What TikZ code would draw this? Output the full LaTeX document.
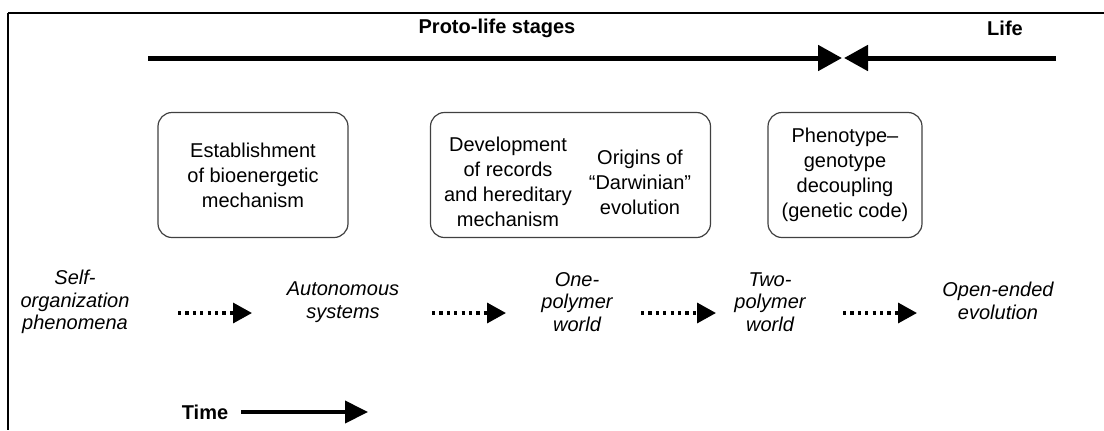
\documentclass[tikz,border=0pt]{standalone}
\usepackage{fontspec}
\setmainfont{Liberation Sans}
\usepackage{tikz}
\usetikzlibrary{arrows.meta,calc,positioning}

\tikzset{
	stagebox/.style={draw=black!75, line width=0.6pt, rounded corners=7pt, align=center},
	worldlabel/.style={align=center, font=\itshape\fontsize{10}{11.2}\selectfont},
	headlabel/.style={font=\bfseries\fontsize{10}{12}\selectfont},
	flow/.style={line width=1.7pt, dash pattern=on 1.6pt off 2.1pt, -{Triangle[length=9.5pt,width=10pt]}},
	bigarrow/.style={line width=2.5pt, -{Triangle[length=12pt,width=12.5pt]}}
}

\begin{document}
\begin{tikzpicture}[x=0.5pt,y=-0.5pt]
		\useasboundingbox (0,0) rectangle (1104,430);
		% frame
		\draw[line width=1pt] (8,13) -- (1104,13);
		\draw[line width=1pt] (8,13) -- (8,430);
		% stages on top
		\node[headlabel] (proto) at (497,28) {Proto-life stages};
		\node[headlabel] (life) at (1005,28) {Life};
		\coordinate (protostart) at (148,58);
		\coordinate (meet) at (842,58);
		\coordinate (meetb) at (844,58);
		\coordinate (lifeend) at (1056,58);
		\draw[bigarrow] (protostart) -- (meet);
		\draw[bigarrow] (lifeend) -- (meetb);
		% boxes
		\node[stagebox, minimum width=95pt, minimum height=62.5pt, font=\fontsize{10}{12.5}\selectfont] (energy) at (253,175) {Establishment\\of bioenergetic\\mechanism};
		\node[stagebox, minimum width=140pt, minimum height=62.5pt] (heredity) at (570.5,175) {};
		\node[align=center, font=\fontsize{10}{12.5}\selectfont] (records) at (508,182) {Development\\of records\\and hereditary\\mechanism};
		\node[align=center, font=\fontsize{10}{12.5}\selectfont] (darwin) at (640,182) {Origins of\\``Darwinian''\\evolution};
		\node[stagebox, minimum width=77pt, minimum height=62.5pt, font=\fontsize{10}{12.5}\selectfont] (code) at (845,175) {Phenotype--\\genotype\\decoupling\\(genetic code)};
		% worlds
		\node[worldlabel] (selforg) at (75,302) {Self-\\organization\\phenomena};
		\node[worldlabel] (auto) at (343,302) {Autonomous\\systems};
		\node[worldlabel] (onepoly) at (577,302) {One-\\polymer\\world};
		\node[worldlabel] (twopoly) at (770,302) {Two-\\polymer\\world};
		\node[worldlabel] (openend) at (998,301) {Open-ended\\evolution};
		\coordinate (f1a) at (178,313);
		\coordinate (f1b) at (252,313);
		\coordinate (f2a) at (432,313);
		\coordinate (f2b) at (506,313);
		\coordinate (f3a) at (641,313);
		\coordinate (f3b) at (716,313);
		\coordinate (f4a) at (843,313);
		\coordinate (f4b) at (917,313);
		\draw[flow] (f1a) -- (f1b);
		\draw[flow] (f2a) -- (f2b);
		\draw[flow] (f3a) -- (f3b);
		\draw[flow] (f4a) -- (f4b);
		% time
		\node[headlabel] (time) at (205,412) {Time};
		\coordinate (timeend) at (368,412);
		\draw[line width=2pt, -{Triangle[length=11.5pt,width=11pt]}] (time.east) ++(6,0) -- (timeend);
\end{tikzpicture}
\end{document}
